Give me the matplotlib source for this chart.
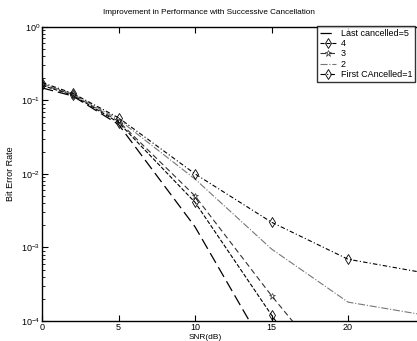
import numpy as np
import matplotlib
matplotlib.use('Agg')
import matplotlib.pyplot as plt

plt.rcParams['font.family'] = ['Liberation Sans', 'DejaVu Sans']
plt.rcParams['font.size'] = 7

# SNR points (dB)
snr = [0, 2, 5, 10, 15, 20, 25]

# bit error rate per cancellation order
ber_last5 = [0.148, 0.115, 0.047, 0.0019, 3.0e-5, 1.0e-6, 5.0e-8]
ber_4 = [0.160, 0.118, 0.050, 0.0041, 1.2e-4, 4.0e-6, 2.0e-7]
ber_3 = [0.165, 0.120, 0.052, 0.0050, 2.2e-4, 1.2e-5, 1.0e-6]
ber_2 = [0.170, 0.122, 0.055, 0.0085, 9.5e-4, 1.8e-4, 1.2e-4]
ber_first1 = [0.175, 0.125, 0.058, 0.0100, 2.2e-3, 6.9e-4, 4.5e-4]

labels = ['Last cancelled=5', '4', '3', '2', 'First CAncelled=1']

fig = plt.figure(figsize=(4.17, 3.41), dpi=100)
ax = fig.add_axes([0.101, 0.059, 0.917, 0.862])

ax.semilogy(snr, ber_last5, color='black', lw=0.9, ls=(0, (9, 4)), label=labels[0])
ax.semilogy(snr, ber_4, color='black', lw=0.8, ls='--', marker='d', mfc='none', ms=5, mew=0.6, label=labels[1])
ax.semilogy(snr, ber_3, color='#333333', lw=0.8, ls=(0, (5, 3)), marker='*', mfc='none', ms=5, mew=0.5, label=labels[2])
ax.semilogy(snr, ber_2, color='#777777', lw=0.8, ls='-.', label=labels[3])
ax.semilogy(snr, ber_first1, color='black', lw=0.8, ls=(0, (4, 2, 1, 2)), marker='d', mfc='none', ms=5, mew=0.6, label=labels[4])

ax.set_xlim(0, 25)
ax.set_ylim(1e-4, 1)
ax.set_xticks([0, 5, 10, 15, 20])
ax.tick_params(which='both', direction='in', top=True, right=True, pad=1.5, labelsize=6.5)
ax.tick_params(which='major', length=4)
ax.tick_params(which='minor', length=2)
for s in ax.spines.values():
    s.set_linewidth(1.0)

fig.text(209 / 417, 1 - 12 / 341, 'Improvement in Performance with Successive Cancellation',
         fontsize=5.9, ha='center', va='center')
ax.set_xlabel('SNR(dB)', fontsize=6, labelpad=0)
ax.xaxis.set_label_coords(163 / 382, -0.045)
ax.set_ylabel('Bit Error Rate', fontsize=6.5, labelpad=4)

ax.legend(loc='upper right', bbox_to_anchor=(415 / 417, 1 - 26 / 341),
          bbox_transform=fig.transFigure, fontsize=6.5, frameon=True, fancybox=False,
          edgecolor='black', handlelength=1.8, borderpad=0.3, labelspacing=0.15,
          handletextpad=0.5, borderaxespad=0)

fig.savefig('out.png', dpi=100)
